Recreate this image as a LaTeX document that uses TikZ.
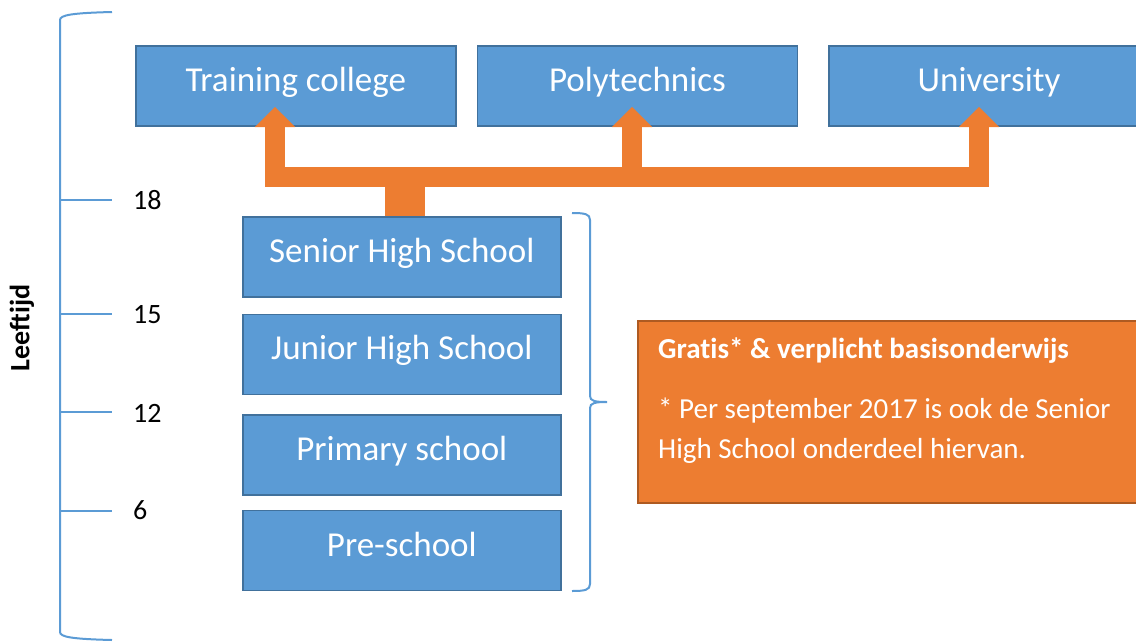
\documentclass[tikz,border=0pt]{standalone}
\usepackage{fontspec}
\setmainfont{Carlito}[Ligatures=CommonOff]
\usepackage{tikz}
\usetikzlibrary{arrows.meta,positioning,calc}

\definecolor{boxblue}{HTML}{5B9BD5}
\definecolor{boxblueline}{HTML}{41719C}
\definecolor{accent}{HTML}{ED7D31}
\definecolor{accentline}{HTML}{AE5A21}

\begin{document}
\begin{tikzpicture}[
        x=1pt, y=-1pt,
        school/.style={rectangle, draw=boxblueline, fill=boxblue, line width=1.6pt, minimum width=320pt, minimum height=80pt, text=white, inner sep=0pt, font=\fontsize{35}{40}\selectfont, text height=25pt, text depth=14pt},
        flow/.style={draw=accent, line width=20pt, -{Triangle[width=40pt, length=20pt, line width=0.1pt]}},
        agebar/.style={draw=boxblue, line width=2pt},
        age/.style={anchor=west, inner sep=0pt, font=\fontsize{28}{32}\selectfont}
    ]
        \useasboundingbox (0,0) rectangle (1136,641);

        % Higher education
        \node[school, anchor=north west] (train) at (135,45) {Training college};
        \node[school, right=20pt of train] (poly) {Polytechnics};
        \node[school, right=30pt of poly] (uni) {University};

        % Basic education
        \node[school, anchor=north west, minimum width=318pt] (senior) at (242,216) {Senior High School};
        \node[school, minimum width=318pt, below=16pt of senior] (junior) {Junior High School};
        \node[school, minimum width=318pt, below=19pt of junior] (primary) {Primary school};
        \node[school, minimum width=318pt, below=14pt of primary] (pre) {Pre-school};

        % Arrows to higher education
        \coordinate (hub) at (405,177);
        \coordinate (tiptrain) at (275,107);
        \coordinate (tippoly) at (632,107);
        \coordinate (tipuni) at (979,107);
        \draw[accent, line width=40pt] (senior.north -| hub) -- (hub);
        \draw[flow] (hub) -| (tiptrain);
        \draw[flow] (hub) -| (tippoly);
        \draw[flow] (hub) -| (tipuni);

        % Age scale
        \draw[agebar] (112,12) .. controls (72,13) and (60,15) .. (60,20) -- (60,632) .. controls (60,637) and (72,639) .. (112,640);
        \foreach \yy in {200,314,412,511}
            \draw[agebar] (60,\yy) -- (112,\yy);
        \node[age] (a18) at (133,200) {18};
        \node[age] (a15) at (133,315) {15};
        \node[age] (a12) at (133,413) {12};
        \node[age] (a6) at (133,510) {6};
        \node[rotate=90, font=\bfseries\fontsize{28}{32}\selectfont, inner sep=0pt] (leeftijd) at (22,328) {Leeftijd};

        % Brace around basic education
        \draw[agebar] (572,213) .. controls (585,213) and (590,214) .. (590,220) -- (590,396) .. controls (590,401) and (595,402) .. (607,402)
            .. controls (595,402) and (590,403) .. (590,408) -- (590,584) .. controls (590,590) and (585,591) .. (572,591);

        % Note
        \node[rectangle, draw=accentline, fill=accent, line width=1.6pt, anchor=north west, minimum width=512pt, minimum height=182pt] (info) at (637,320) {};
        \node[anchor=base west, inner sep=0pt, text=white, font=\bfseries\fontsize{29}{40}\selectfont] (gratis) at (658,358) {Gratis* \& verplicht basisonderwijs};
        \node[anchor=base west, inner sep=0pt, text=white, align=left, font=\fontsize{29}{40}\selectfont] (perstep) at (658,458) {* Per september 2017 is ook de Senior\\High School onderdeel hiervan.};
    \end{tikzpicture}
\end{document}
